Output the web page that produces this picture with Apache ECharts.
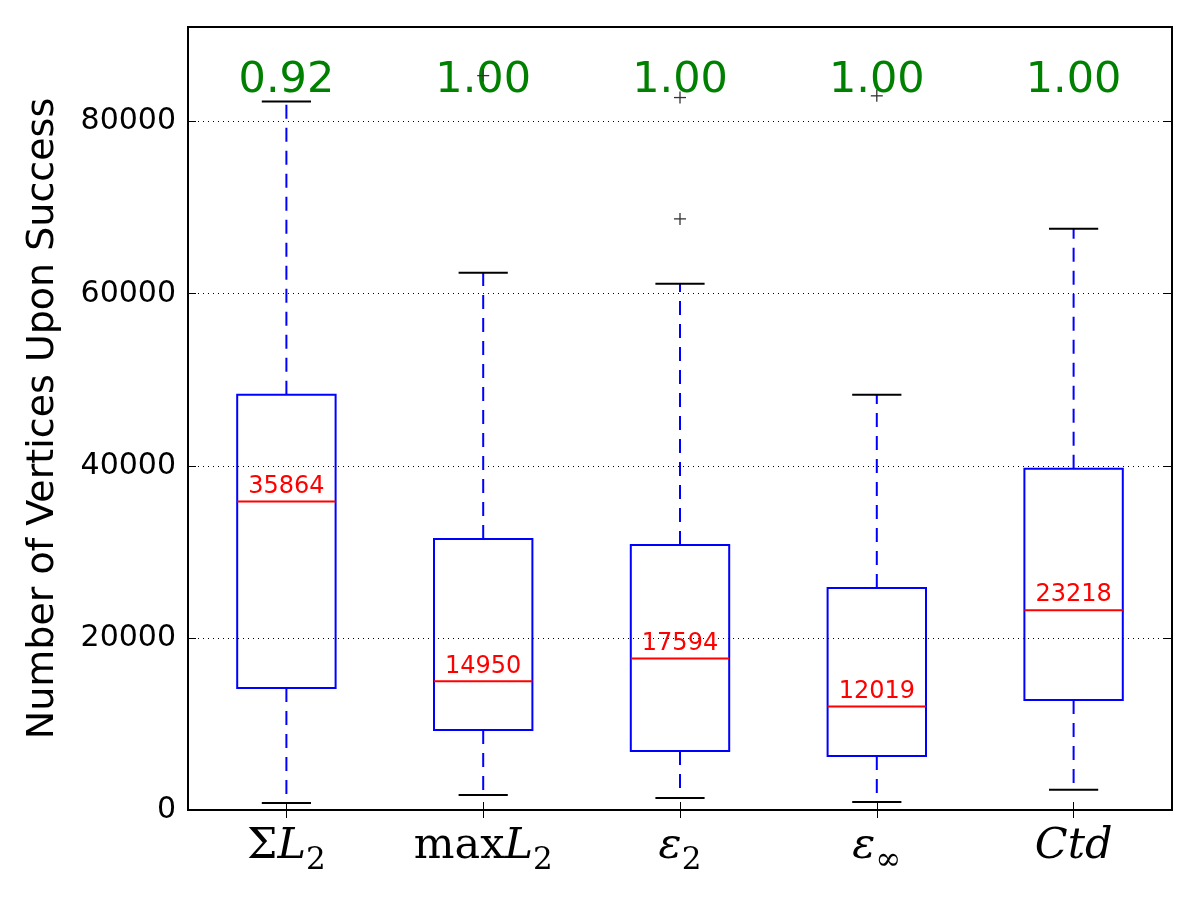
<!DOCTYPE html>
<html>
<head>
<meta charset="utf-8">
<script src="https://cdn.jsdelivr.net/npm/echarts@6/dist/echarts.min.js"></script>
<style>
  html, body { margin: 0; padding: 0; background: #fff; }
  #main { width: 1200px; height: 900px; }
</style>
</head>
<body>
<div id="main"></div>
<script>
// categories (shown with math-style labels)
var categories = ['sumL2', 'maxL2', 'eps2', 'epsInf', 'Ctd'];
// box stats: [whisker low, Q1, median, Q3, whisker high]
var lowWhisker  = [800, 1750, 1400, 930, 2350];
var q1Values    = [14190, 9300, 6860, 6280, 12790];
var medians     = [35864, 14950, 17594, 12019, 23218];
var q3Values    = [48250, 31500, 30800, 25800, 39650];
var highWhisker = [82330, 62440, 61160, 48250, 67560];
// outliers: [category index, value]
var outliers = [[1, 85350], [2, 82800], [2, 68700], [3, 83000]];
// success rates printed above each box
var successRates = ['0.92', '1.00', '1.00', '1.00', '1.00'];
var yTicks = [0, 20000, 40000, 60000, 80000];

var chart = echarts.init(document.getElementById('main'));

var boxData = categories.map(function (c, i) {
  return [i, lowWhisker[i], q1Values[i], medians[i], q3Values[i], highWhisker[i]];
});

// math-ish labels for the x axis
var xLabelText = {
  sumL2: '{n|Σ}{i|L}{s|2}',
  maxL2: '{n|max}{i|L}{s|2}',
  eps2: '{i|ε}{s|2}',
  epsInf: '{i|ε}{s|∞}',
  Ctd: '{i|Ctd}'
};

function renderBox(params, api) {
  var idx = api.value(0);
  var pLow = api.coord([idx, api.value(1)]);
  var pQ1 = api.coord([idx, api.value(2)]);
  var pMed = api.coord([idx, api.value(3)]);
  var pQ3 = api.coord([idx, api.value(4)]);
  var pHigh = api.coord([idx, api.value(5)]);
  var bw = api.size([1, 0])[0];
  var half = bw * 0.25;
  var cap = bw * 0.125;
  var x = pMed[0];
  var dash = { stroke: '#0000ff', lineWidth: 2, lineDash: [14, 9] };
  return {
    type: 'group',
    children: [
      { type: 'line', shape: { x1: x, y1: pQ1[1], x2: x, y2: pLow[1] }, style: dash },
      { type: 'line', shape: { x1: x, y1: pQ3[1], x2: x, y2: pHigh[1] }, style: dash },
      { type: 'line', shape: { x1: x - cap, y1: pLow[1], x2: x + cap, y2: pLow[1] }, style: { stroke: '#000', lineWidth: 2 } },
      { type: 'line', shape: { x1: x - cap, y1: pHigh[1], x2: x + cap, y2: pHigh[1] }, style: { stroke: '#000', lineWidth: 2 } },
      { type: 'rect', shape: { x: x - half, y: pQ3[1], width: half * 2, height: pQ1[1] - pQ3[1] },
        style: { fill: 'none', stroke: '#0000ff', lineWidth: 2 } },
      { type: 'line', shape: { x1: x - half, y1: pMed[1], x2: x + half, y2: pMed[1] }, style: { stroke: '#ff0000', lineWidth: 2 } },
      { type: 'text', x: x, y: pMed[1] - 3,
        style: { text: String(api.value(3)), fill: '#ff0000', font: '24px "DejaVu Sans"', align: 'center', verticalAlign: 'bottom' } },
      { type: 'text', x: x, y: params.coordSys.y + 54,
        style: { text: successRates[idx], fill: '#008000', font: '43px "DejaVu Sans"', align: 'center', verticalAlign: 'middle' } }
    ]
  };
}

function renderOutlier(params, api) {
  var p = api.coord([api.value(0), api.value(1)]);
  var r = 6;
  var st = { stroke: '#333', lineWidth: 1.3 };
  return {
    type: 'group',
    children: [
      { type: 'line', shape: { x1: p[0] - r, y1: p[1], x2: p[0] + r, y2: p[1] }, style: st },
      { type: 'line', shape: { x1: p[0], y1: p[1] - r, x2: p[0], y2: p[1] + r }, style: st }
    ]
  };
}

var serif = '"DejaVu Serif", "Liberation Serif", serif';

var option = {
  animation: false,
  backgroundColor: '#fff',
  grid: { left: 188, right: 28, top: 27, bottom: 90, show: true, borderColor: '#000', borderWidth: 2 },
  xAxis: [{
    type: 'category',
    data: categories,
    axisLine: { show: false },
    axisTick: { show: true, inside: true, alignWithLabel: true, length: 8, lineStyle: { color: '#000', width: 1 } },
    splitLine: { show: false },
    axisLabel: {
      margin: 12,
      formatter: function (v) { return xLabelText[v]; },
      rich: {
        n: { fontFamily: serif, fontSize: 43, color: '#000', lineHeight: 50 },
        i: { fontFamily: serif, fontSize: 43, fontStyle: 'italic', color: '#000', lineHeight: 50 },
        s: { fontFamily: serif, fontSize: 31, color: '#000', padding: [28, 0, 0, 0], lineHeight: 50 }
      }
    }
  }, {
    type: 'category',
    data: categories,
    position: 'top',
    axisLine: { show: false },
    axisTick: { show: true, inside: true, alignWithLabel: true, length: 8, lineStyle: { color: '#000', width: 1 } },
    axisLabel: { show: false }
  }],
  yAxis: [{
    type: 'value',
    min: 0,
    max: 91000,
    interval: 20000,
    name: 'Number of Vertices Upon Success',
    nameLocation: 'middle',
    nameGap: 126,
    nameTextStyle: { fontFamily: '"DejaVu Sans"', fontSize: 38, color: '#000' },
    axisLine: { show: false },
    axisTick: { show: true, inside: true, length: 8, lineStyle: { color: '#000', width: 1 } },
    axisLabel: {
      margin: 12,
      showMaxLabel: false,
      fontFamily: '"DejaVu Sans"', fontSize: 30, color: '#000',
      formatter: function (v) { return yTicks.indexOf(v) >= 0 ? String(v) : ''; }
    },
    splitLine: { show: true, lineStyle: { color: '#000', width: 1, type: [1, 4] } }
  }, {
    type: 'value',
    min: 0,
    max: 91000,
    interval: 20000,
    position: 'right',
    axisLine: { show: false },
    axisTick: { show: true, inside: true, length: 8, lineStyle: { color: '#000', width: 1 } },
    axisLabel: { show: false },
    splitLine: { show: false }
  }],
  series: [{
    type: 'custom',
    renderItem: renderBox,
    encode: { x: 0, y: [1, 2, 3, 4, 5] },
    data: boxData,
    clip: false
  }, {
    type: 'custom',
    renderItem: renderOutlier,
    encode: { x: 0, y: 1 },
    data: outliers
  }]
};

chart.setOption(option);
</script>
</body>
</html>
